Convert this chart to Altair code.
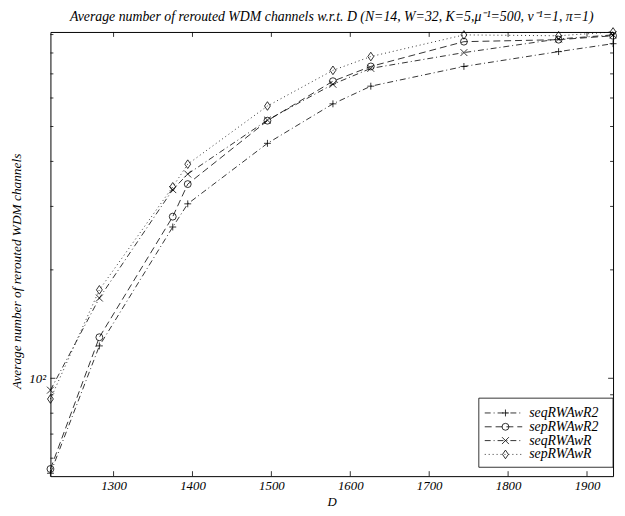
import altair as alt
import pandas as pd

# ---- data ----
D = [1220, 1282, 1375, 1394, 1495, 1578, 1626, 1744, 1864, 1933]
names = ["seqRWAwR2", "sepRWAwR2", "seqRWAwR", "sepRWAwR"]
seqRWAwR2 = [54.5, 123, 263, 305, 449, 578, 647, 734, 807, 849]
sepRWAwR2 = [56, 130, 281, 346, 519, 668, 734, 860, 871, 893]
seqRWAwR = [92.7, 167, 334, 369, 521, 655, 725, 802, 875, 898]
sepRWAwR = [87.6, 176, 340, 393, 570, 716, 782, 898, 893, 915]

x_ticks = [1300, 1400, 1500, 1600, 1700, 1800, 1900]
y_major = [100]
y_minor = [60, 70, 80, 90, 200, 300, 400, 500, 600, 700, 800, 900]

dashes = [[6, 3, 1, 3], [7, 4], [6, 3, 1, 3], [1, 3]]
shapes = ["M-1,0L1,0M0,-1L0,1", "circle", "M-1,-1L1,1M-1,1L1,-1",
          "M0,-1.25L0.85,0L0,1.25L-0.85,0Z"]

rows = []
for n, vals in zip(names, [seqRWAwR2, sepRWAwR2, seqRWAwR, sepRWAwR]):
    for d, v in zip(D, vals):
        rows.append({"D": d, "v": v, "series": n})
df = pd.DataFrame(rows)

W, H = 570, 450
FONT = "Liberation Serif"
xs = alt.Scale(domain=[1220, 1933], nice=False, zero=False)
ys = alt.Scale(type="log", domain=[53.5, 915], nice=False)
dash_scale = alt.Scale(domain=names, range=dashes)
shape_scale = alt.Scale(domain=names, range=shapes)

x_axis = alt.Axis(title="D", values=x_ticks, format="d", ticks=False, domain=False, grid=False,
                  labelFont=FONT, labelFontStyle="italic", labelFontSize=13, labelColor="black",
                  labelPadding=4, titleFont=FONT, titleFontStyle="italic", titleFontSize=13,
                  titleFontWeight="normal", titleColor="black", titleY=26, titleBaseline="middle")
y_axis = alt.Axis(title="Average number of rerouted WDM channels", values=y_major,
                  labelExpr="'10²'", ticks=False, domain=False, grid=False,
                  labelFont=FONT, labelFontStyle="italic", labelFontSize=13, labelColor="black",
                  labelPadding=5, titleFont=FONT, titleFontStyle="italic", titleFontSize=13.5,
                  titleFontWeight="normal", titleColor="black", titleX=-34, titleY=242,
                  titleBaseline="middle", titleAlign="center")

base = alt.Chart(df)
lines = base.mark_line(color="black", strokeWidth=0.8, clip=False).encode(
    x=alt.X("D:Q", scale=xs, axis=x_axis),
    y=alt.Y("v:Q", scale=ys, axis=y_axis),
    strokeDash=alt.StrokeDash("series:N", scale=dash_scale, legend=None),
    detail="series:N",
)
points = base.mark_point(color="black", filled=False, strokeWidth=0.8, size=49, opacity=1).encode(
    x=alt.X("D:Q", scale=xs, axis=None),
    y=alt.Y("v:Q", scale=ys, axis=None),
    shape=alt.Shape("series:N", scale=shape_scale, legend=None),
)

xt = alt.Chart(pd.DataFrame({"t": x_ticks}))
xt_bottom = xt.mark_rule(color="black", strokeWidth=0.8).encode(
    x=alt.X("t:Q", scale=xs, axis=None), y=alt.value(H), y2=alt.value(H - 5))
xt_top = xt.mark_rule(color="black", strokeWidth=0.8).encode(
    x=alt.X("t:Q", scale=xs, axis=None), y=alt.value(0), y2=alt.value(5))

ytM = alt.Chart(pd.DataFrame({"t": y_major}))
ytm = alt.Chart(pd.DataFrame({"t": y_minor}))
yt_layers = []
for c, L in [(ytM, 5), (ytm, 3)]:
    yt_layers.append(c.mark_rule(color="black", strokeWidth=0.8).encode(
        y=alt.Y("t:Q", scale=ys, axis=None), x=alt.value(0), x2=alt.value(L)))
    yt_layers.append(c.mark_rule(color="black", strokeWidth=0.8).encode(
        y=alt.Y("t:Q", scale=ys, axis=None), x=alt.value(W), x2=alt.value(W - L)))

# ---- legend ----
leg = alt.Chart(pd.DataFrame({"series": names}))
leg_y = alt.Y("series:N", scale=alt.Scale(type="point", domain=names, range=[386, 428], padding=0),
              axis=None)
box = alt.Chart(pd.DataFrame({"a": [0]})).mark_rect(fill="white", stroke="black", strokeWidth=0.8).encode(
    x=alt.value(434), x2=alt.value(W), y=alt.value(371), y2=alt.value(441))
leg_lines = leg.mark_rule(color="black", strokeWidth=0.8).encode(
    y=leg_y, x=alt.value(440), x2=alt.value(478),
    strokeDash=alt.StrokeDash("series:N", scale=dash_scale, legend=None))
leg_pts = leg.mark_point(color="black", filled=False, strokeWidth=0.8, size=49, opacity=1).encode(
    y=leg_y, x=alt.value(461),
    shape=alt.Shape("series:N", scale=shape_scale, legend=None))
leg_txt = leg.mark_text(align="left", baseline="middle", font=FONT, fontStyle="italic",
                        fontSize=14, color="black").encode(
    y=leg_y, x=alt.value(485), text="series:N")

title = alt.TitleParams(
    "Average number of rerouted WDM channels w.r.t. D (N=14, W=32, K=5,μ⁻¹=500, ν⁻¹=1, π=1)",
    font=FONT, fontStyle="italic", fontSize=14, fontWeight="normal", color="black",
    anchor="middle", offset=2)

chart = alt.layer(lines, points, xt_bottom, xt_top, *yt_layers, box, leg_lines, leg_pts, leg_txt).resolve_scale(
    x="independent", y="independent").resolve_axis(x="independent", y="independent").properties(
    width=W, height=H, title=title, autosize="none",
    padding={"left": 43, "top": 21, "right": 4, "bottom": 29},
    background="white",
).configure_view(stroke="black", strokeWidth=1)

chart.save("out.html", embed_options={"renderer": "svg", "actions": False})
